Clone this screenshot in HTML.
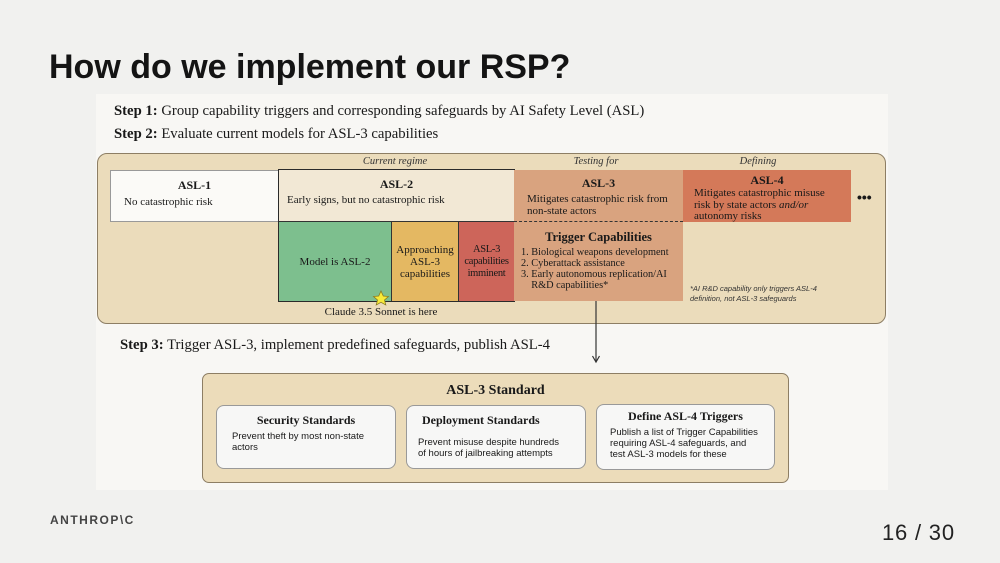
<!DOCTYPE html>
<html><head><meta charset="utf-8"><style>
*{margin:0;padding:0;box-sizing:border-box}
body{width:1000px;height:563px;background:#f1f1ef;position:relative;overflow:hidden;font-family:"Liberation Sans",sans-serif;color:#191919}
.a{position:absolute}
.s{font-family:"Liberation Serif",serif}
.c{display:flex;flex-direction:column;align-items:center;justify-content:center;text-align:center}
.it{font-style:italic;font-size:10.5px;color:#333}
</style></head><body>
<div class="a" style="left:96px;top:94px;width:792px;height:396px;background:#f8f7f4"></div>
<div class="a" style="left:49px;top:48px;font-size:34px;font-weight:bold;color:#141414">How do we implement our RSP?</div>
<div class="a s" style="left:114px;top:103px;font-size:14.7px"><b>Step 1:</b> Group capability triggers and corresponding safeguards by AI Safety Level (ASL)</div>
<div class="a s" style="left:114px;top:126px;font-size:14.7px"><b>Step 2:</b> Evaluate current models for ASL-3 capabilities</div>

<div class="a" style="left:97px;top:153px;width:789px;height:171px;background:#ebdcbb;border:1.5px solid #8d7e64;border-radius:10px"></div>
<div class="a s it" style="left:345px;top:156px;width:100px;text-align:center">Current regime</div>
<div class="a s it" style="left:546px;top:156px;width:100px;text-align:center">Testing for</div>
<div class="a s it" style="left:708px;top:156px;width:100px;text-align:center">Defining</div>

<div class="a s" style="left:110px;top:170px;width:169px;height:52px;background:#fbfaf7;border:1px solid #999;font-size:11px">
 <div style="text-align:center;font-weight:bold;font-size:12px;margin-top:7px">ASL-1</div>
 <div style="margin:3px 0 0 13px">No catastrophic risk</div></div>
<div class="a s" style="left:279px;top:170px;width:235px;height:52px;background:#f2e8d5;font-size:11px">
 <div style="text-align:center;font-weight:bold;font-size:12px;margin-top:7px">ASL-2</div>
 <div style="margin:2px 0 0 8px">Early signs, but no catastrophic risk</div></div>
<div class="a s c" style="left:279px;top:222px;width:112px;height:79px;background:#7dbf8e;font-size:11px">Model is ASL-2</div>
<div class="a s c" style="left:391px;top:222px;width:68px;height:79px;background:#e4b862;font-size:11px;line-height:12px;border-left:1px solid #333;border-right:1px solid #333">Approaching<br>ASL-3<br>capabilities</div>
<div class="a s c" style="left:459px;top:222px;width:55px;height:79px;background:#cd655a;font-size:10.5px;line-height:12px;letter-spacing:-0.3px">ASL-3<br>capabilities<br>imminent</div>
<div class="a" style="left:278px;top:169px;width:237px;height:133px;border:1.5px solid #2a2a2a"></div>
<div class="a" style="left:279px;top:221px;width:235px;border-top:1px solid #333"></div>

<div class="a s" style="left:514px;top:170px;width:169px;height:131px;background:#d9a37f;font-size:11px">
 <div style="text-align:center;font-weight:bold;font-size:12px;margin-top:6px">ASL-3</div>
 <div style="margin:2px 0 0 13px;line-height:12px">Mitigates catastrophic risk from<br>non-state actors</div>
 <div style="position:absolute;left:0;top:51px;width:169px;border-top:1.2px dashed #333"></div>
 <div style="position:absolute;top:60px;width:169px;text-align:center;font-weight:bold;font-size:12.5px">Trigger Capabilities</div>
 <div style="position:absolute;top:77px;left:7px;font-size:10.3px;line-height:11px">1. Biological weapons development<br>2. Cyberattack assistance<br>3. Early autonomous replication/AI<br>&nbsp;&nbsp;&nbsp;&nbsp;R&amp;D capabilities*</div>
</div>
<div class="a s" style="left:683px;top:170px;width:168px;height:52px;background:#d47959;font-size:11px">
 <div style="text-align:center;font-weight:bold;font-size:12px;margin-top:3px">ASL-4</div>
 <div style="margin:0 0 0 11px;line-height:11.5px">Mitigates catastrophic misuse<br>risk by state actors <i>and/or</i><br>autonomy risks</div></div>
<div class="a" style="left:857px;top:189px;font-size:14px;font-weight:bold">•••</div>
<div class="a" style="left:690px;top:284px;font-size:7.5px;font-style:italic;line-height:10px;color:#333">*AI R&amp;D capability only triggers ASL-4<br>definition, not ASL-3 safeguards</div>

<svg class="a" style="left:0;top:0" width="1000" height="563">
<polygon points="381,291 383.3,296 388.5,296.5 384.5,300 385.8,305 381,302.3 376.2,305 377.5,300 373.5,296.5 378.7,296" fill="#f6ea3a" stroke="#8a7a20" stroke-width="0.8"/>
<line x1="596" y1="301" x2="596" y2="361" stroke="#333" stroke-width="1.2"/>
<polyline points="592.5,356 596,362 599.5,356" fill="none" stroke="#333" stroke-width="1.2"/>
</svg>
<div class="a s" style="left:290px;top:306px;width:182px;text-align:center;font-size:11px">Claude 3.5 Sonnet is here</div>

<div class="a s" style="left:120px;top:337px;font-size:14.7px"><b>Step 3:</b> Trigger ASL-3, implement predefined safeguards, publish ASL-4</div>

<div class="a" style="left:202px;top:373px;width:587px;height:110px;background:#ecdcba;border:1px solid #8d7e64;border-radius:7px"></div>
<div class="a s" style="left:202px;top:383px;width:587px;text-align:center;font-weight:bold;font-size:14px">ASL-3 Standard</div>
<div class="a" style="left:216px;top:405px;width:180px;height:64px;background:#f7f7f6;border:1px solid #999;border-radius:8px">
 <div class="s" style="text-align:center;font-weight:bold;font-size:12px;margin-top:7px">Security Standards</div>
 <div style="font-size:9.5px;margin:3px 0 0 15px;line-height:11px">Prevent theft by most non-state<br>actors</div></div>
<div class="a" style="left:406px;top:405px;width:180px;height:64px;background:#f7f7f6;border:1px solid #999;border-radius:8px">
 <div class="s" style="font-weight:bold;font-size:12px;margin:7px 0 0 15px">Deployment Standards</div>
 <div style="font-size:9.5px;margin:9px 0 0 11px;line-height:11px">Prevent misuse despite hundreds<br>of hours of jailbreaking attempts</div></div>
<div class="a" style="left:596px;top:404px;width:179px;height:66px;background:#f7f7f6;border:1px solid #999;border-radius:8px">
 <div class="s" style="text-align:center;font-weight:bold;font-size:12px;margin-top:4px">Define ASL-4 Triggers</div>
 <div style="font-size:9.5px;margin:3px 0 0 13px;line-height:11px">Publish a list of Trigger Capabilities<br>requiring ASL-4 safeguards, and<br>test ASL-3 models for these</div></div>

<div class="a" style="left:50px;top:513px;font-size:12px;font-weight:bold;letter-spacing:1.5px;color:#444">ANTHROP\C</div>
<div class="a" style="left:882px;top:520px;font-size:22px;letter-spacing:0.8px;color:#222">16 / 30</div>
</body></html>
